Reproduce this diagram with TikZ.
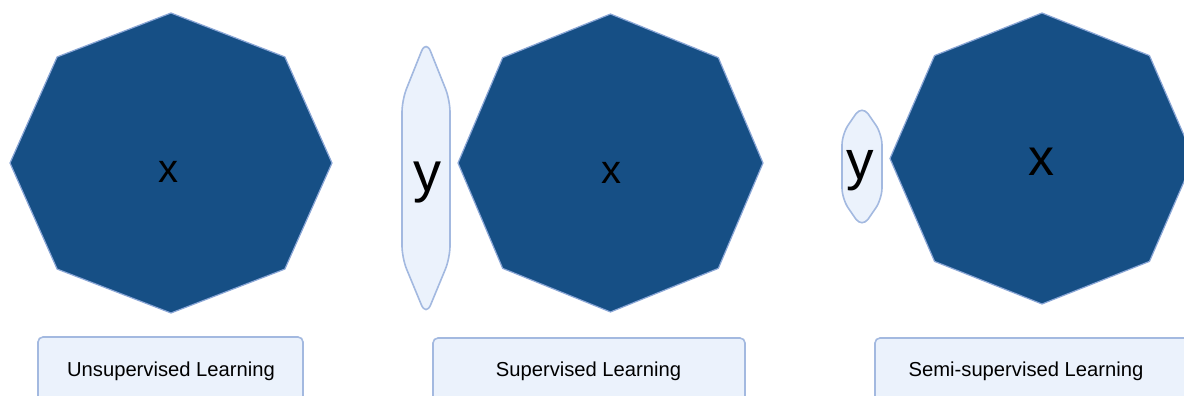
\documentclass[tikz,border=0pt]{standalone}
\usepackage{fontspec}
\setmainfont{Liberation Sans}
\definecolor{octfill}{HTML}{164F85}
\definecolor{octline}{HTML}{8AA6D6}
\definecolor{lightfill}{HTML}{EBF2FC}
\definecolor{lightline}{HTML}{A3B9E0}
\tikzset{
  oct/.style={fill=octfill, draw=octline, line width=1.2pt, line join=miter},
  yshape/.style={fill=lightfill, draw=lightline, line width=1.6pt, rounded corners=12pt},
  labelbox/.style={fill=lightfill, draw=lightline, line width=1.6pt, rounded corners=5pt},
  labeltext/.style={anchor=base, inner sep=0pt, font=\fontsize{20.2}{24}\selectfont},
  vartext/.style={anchor=base, inner sep=0pt, text=black},
}
\begin{document}
\begin{tikzpicture}[x=1pt,y=-1pt]
\useasboundingbox (0,0) rectangle (1184,396);
\fill[white] (0,0) rectangle (1184,396);
% octagons
\draw[oct,shift={(171,163)}] (0:161 and 150) -- (45:161 and 150) -- (90:161 and 150) -- (135:161 and 150) -- (180:161 and 150) -- (225:161 and 150) -- (270:161 and 150) -- (315:161 and 150) -- cycle;
\draw[oct,shift={(610.5,163)}] (0:152.5 and 149) -- (45:152.5 and 149) -- (90:152.5 and 149) -- (135:152.5 and 149) -- (180:152.5 and 149) -- (225:152.5 and 149) -- (270:152.5 and 149) -- (315:152.5 and 149) -- cycle;
\draw[oct,shift={(1042,158.5)}] (0:152 and 145.5) -- (45:152 and 145.5) -- (90:152 and 145.5) -- (135:152 and 145.5) -- (180:152 and 145.5) -- (225:152 and 145.5) -- (270:152 and 145.5) -- (315:152 and 145.5) -- cycle;
% y shapes
\draw[yshape] (426,40) -- (450,100) -- (450,258) -- (426,316) -- (402,258) -- (402,100) -- cycle;
\draw[yshape,rounded corners=11pt] (862,105) -- (882,134) -- (882,199) -- (862,228) -- (842,199) -- (842,134) -- cycle;
% label boxes
\draw[labelbox] (38,410) -- (38,337) -- (303,337) -- (303,410);
\draw[labelbox] (433,410) -- (433,338) -- (745,338) -- (745,410);
\draw[labelbox] (875,410) -- (875,338) -- (1200,338) -- (1200,410);
% texts
\node[vartext,font=\fontsize{40}{44}\selectfont] (x1) at (168,182) {x};
\node[vartext,font=\fontsize{40}{44}\selectfont] (x2) at (611.5,183) {x};
\node[vartext,font=\fontsize{52}{56}\selectfont] (x3) at (1041.5,175) {x};
\node[vartext,font=\fontsize{56}{60}\selectfont] (y2) at (427,191) {y};
\node[vartext,font=\fontsize{55}{60}\selectfont] (y3) at (860.5,179) {y};
\node[labeltext] (l1) at (171,376.5) {Unsupervised Learning};
\node[labeltext] (l2) at (588.5,376.5) {Supervised Learning};
\node[labeltext] (l3) at (1026,376.5) {Semi-supervised Learning};
\end{tikzpicture}
\end{document}
